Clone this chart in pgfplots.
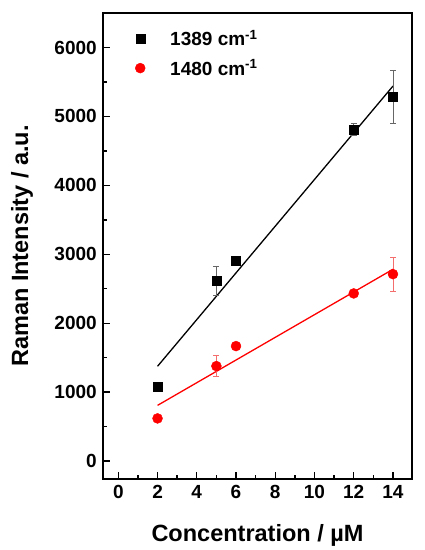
\documentclass[border=0pt]{standalone}
\usepackage{fontspec}
\setmainfont{Liberation Sans}
\usepackage{pgfplots}
\pgfplotsset{compat=1.18}
\definecolor{ebred}{RGB}{245,110,110}
\begin{document}
\begin{tikzpicture}
\path[use as bounding box] (-103pt,-71pt) rectangle (321pt,479pt);
\begin{axis}[
  at={(0pt,0pt)}, anchor=south west,
  scale only axis, width=309pt, height=466pt,
  xmin=-0.78, xmax=14.97, ymin=-260, ymax=6500,
  xtick={0,2,...,14}, ytick={0,1000,...,6000},
  minor x tick num=1, minor y tick num=1,
  tick align=inside, xtick pos=bottom, ytick pos=left,
  major tick length=7pt, minor tick length=4pt,
  axis line style={line width=1.8pt},
  tick style={line width=1.4pt, black},
  ticklabel style={font=\bfseries\fontsize{19}{19}\selectfont},
  xticklabel style={yshift=-3pt},
  yticklabel style={xshift=-2.7pt},
  /pgf/number format/assume math mode=true,
  /pgf/number format/set thousands separator={},
  xlabel={Concentration / µM},
  ylabel={Raman Intensity / a.u.},
  label style={font=\bfseries\fontsize{23.5}{23.5}\selectfont},
  xlabel style={at={(axis description cs:0.5,-0.121)}, anchor=center},
  ylabel style={at={(axis description cs:-0.262,0.5)}, anchor=center, rotate=0},
  legend style={draw=none, fill=none, at={(axis description cs:0.094,0.972)}, anchor=north west,
    font=\bfseries\fontsize{19}{19}\selectfont, row sep=8.5pt,
    /tikz/every odd column/.append style={column sep=23pt}},
  legend cell align=left,
]
\addplot[black, line width=1.3pt, forget plot] coordinates {(2,1375) (14,5440)};
\addplot[red, line width=1.3pt, forget plot] coordinates {(2,808) (14,2782)};

\addplot[only marks, mark=square*, mark size=4.5pt, black,
  error bars/.cd, y dir=both, y explicit,
  error bar style={black!60, line width=0.7pt},
  error mark options={black!60, mark size=3pt, line width=0.7pt, rotate=90}]
  table[x=x, y=y, y error=e] {
x y e
2 1080 0
5 2615 215
6 2911 0
12 4810 90
14 5284 380
};
\addlegendentry{1389 cm\textsuperscript{-1}}

\addplot[only marks, mark=*, mark size=5pt, red,
  error bars/.cd, y dir=both, y explicit,
  error bar style={ebred, line width=0.7pt},
  error mark options={ebred, mark size=3pt, line width=0.7pt, rotate=90}]
  table[x=x, y=y, y error=e] {
x y e
2 619 0
5 1378 150
6 1668 0
12 2432 30
14 2712 250
};
\addlegendentry{1480 cm\textsuperscript{-1}}
\end{axis}
\end{tikzpicture}
\end{document}
